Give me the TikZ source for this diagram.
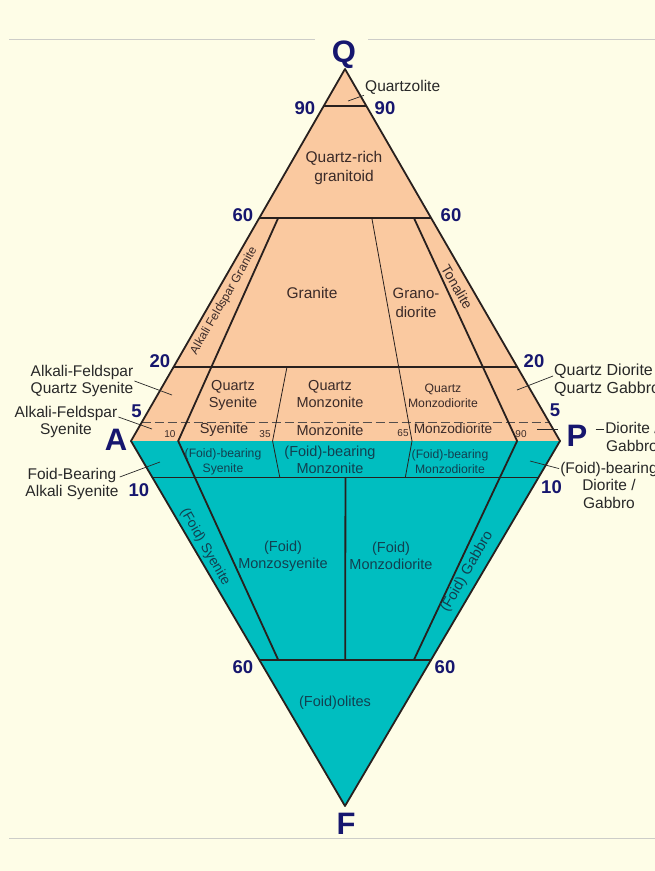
\documentclass[tikz,border=0pt]{standalone}
\usepackage{fontspec}
\setmainfont{Liberation Sans}
\usetikzlibrary{calc}

\definecolor{bg}{RGB}{254,253,231}
\definecolor{peach}{RGB}{250,201,160}
\definecolor{sea}{RGB}{0,190,192}
\definecolor{navy}{RGB}{22,22,110}
\definecolor{edge}{RGB}{40,32,30}
\definecolor{rocktext}{RGB}{58,42,40}
\definecolor{foidtext}{RGB}{18,64,80}
\definecolor{notetext}{RGB}{40,40,40}
\definecolor{rulegray}{RGB}{205,205,200}

\begin{document}
\begin{tikzpicture}[x=1pt, y=-1pt,
  vtx/.style={font=\bfseries\fontsize{31}{31}\selectfont, text=navy, inner sep=0pt},
  pct/.style={font=\bfseries\fontsize{18.5}{18.5}\selectfont, text=navy, inner sep=0pt},
  tick/.style={font=\fontsize{10}{10}\selectfont, text=rocktext, inner sep=0pt},
  rock/.style={font=\fontsize{14.5}{17}\selectfont, text=rocktext, align=center, inner sep=1pt},
  smallrock/.style={rock, font=\fontsize{12.2}{15}\selectfont},
  foid/.style={rock, text=foidtext},
  smallfoid/.style={smallrock, text=foidtext},
  note/.style={font=\fontsize{15.5}{17.5}\selectfont, text=notetext, align=center, inner sep=1pt},
  heavy/.style={draw=edge, line width=1.8pt},
  light/.style={draw=edge, line width=0.8pt},
  dashline/.style={draw=edge!80, line width=1pt, dash pattern=on 9pt off 4pt},
  leader/.style={draw=notetext, line width=0.7pt},
  rule/.style={draw=rulegray, line width=1pt}]

  % Page
  \clip (0,0) rectangle (655,871);
  \fill[bg] (0,0) rectangle (655,871);
  \coordinate (R1) at (9,39.5);
  \coordinate (R2) at (315,39.5);
  \coordinate (R3) at (368,39.5);
  \coordinate (R4) at (655,39.5);
  \coordinate (R5) at (9,838);
  \coordinate (R6) at (655,838);
  \draw[rule] (R1) -- (R2);
  \draw[rule] (R3) -- (R4);
  \draw[rule] (R5) -- (R6);

  % Corners
  \coordinate (Q) at (345,69);
  \coordinate (A) at (131,441);
  \coordinate (P) at (560,441);
  \coordinate (F) at (345,806);

  % Fields
  \fill[peach] (Q) -- (A) -- (P) -- cycle;
  \fill[sea] (A) -- (F) -- (P) -- cycle;

  % Q levels
  \coordinate (q90a) at ($(Q)!0.1!(A)$);
  \coordinate (q90p) at ($(Q)!0.1!(P)$);
  \coordinate (q60a) at ($(Q)!0.4!(A)$);
  \coordinate (q60p) at ($(Q)!0.4!(P)$);
  \coordinate (q20a) at ($(Q)!0.8!(A)$);
  \coordinate (q20p) at ($(Q)!0.8!(P)$);
  \coordinate (q05a) at ($(Q)!0.95!(A)$);
  \coordinate (q05p) at ($(Q)!0.95!(P)$);

  % F levels
  \coordinate (f10a) at ($(F)!0.9!(A)$);
  \coordinate (f10p) at ($(F)!0.9!(P)$);
  \coordinate (f60a) at ($(F)!0.4!(A)$);
  \coordinate (f60p) at ($(F)!0.4!(P)$);

  % P/(A+P) on the base
  \coordinate (b10) at ($(A)!0.11!(P)$);
  \coordinate (b35) at ($(A)!0.33!(P)$);
  \coordinate (b50) at ($(A)!0.5!(P)$);
  \coordinate (b65) at ($(A)!0.655!(P)$);
  \coordinate (b90) at ($(A)!0.9!(P)$);

  \coordinate (u10) at ($(Q)!0.4!(b10)$);
  \coordinate (u35) at ($(Q)!0.8!(b35)$);
  \coordinate (u65) at ($(Q)!0.4!(b65)$);
  \coordinate (u90) at ($(Q)!0.4!(b90)$);
  \coordinate (d10) at ($(F)!0.4!(b10)$);
  \coordinate (d35) at ($(F)!0.9!(b35)$);
  \coordinate (d50a) at ($(F)!0.9!(b50)$);
  \coordinate (d50b) at ($(F)!0.4!(b50)$);
  \coordinate (d65) at ($(F)!0.9!(b65)$);
  \coordinate (d90) at ($(F)!0.4!(b90)$);

  % Level lines
  \draw[heavy] (q90a) -- (q90p);
  \draw[heavy] (q60a) -- (q60p);
  \draw[heavy] (q20a) -- (q20p);
  \draw[dashline] (q05a) -- (q05p);
  \draw[heavy] (f10a) -- (f10p);
  \draw[heavy] (f60a) -- (f60p);

  % Ratio lines
  \draw[heavy] (u10) -- (b10) -- (d10);
  \draw[light] (u35) -- (b35) -- (d35);
  \draw[light] (u65) -- (b65) -- (d65);
  \draw[heavy] (u90) -- (b90) -- (d90);
  \draw[heavy] (d50a) -- (d50b);

  % Outline
  \draw[heavy, line join=round] (Q) -- (A) -- (F) -- (P) -- cycle;

  % Corner labels
  \node[vtx] (lQ) at (344,55) {Q};
  \node[vtx] (lA) at (116,440) {A};
  \node[vtx] (lP) at (577,436) {P};
  \node[vtx] (lF) at (346,824) {F};

  % Percentages
  \node[pct] (n90a) at (305,108) {90};
  \node[pct] (n90p) at (385,108) {90};
  \node[pct] (n60a) at (243,215.5) {60};
  \node[pct] (n60p) at (451,215.5) {60};
  \node[pct] (n20a) at (160,361) {20};
  \node[pct] (n20p) at (534,361) {20};
  \node[pct] (n5a) at (136.5,411) {5};
  \node[pct] (n5p) at (555,410) {5};
  \node[pct] (n10a) at (139,490) {10};
  \node[pct] (n10p) at (551.5,487) {10};
  \node[pct] (n60fa) at (243,667.5) {60};
  \node[pct] (n60fp) at (445,667.5) {60};

  % Ratio ticks
  \node[tick] (t10) at (170,434) {10};
  \node[tick] (t35) at (265,434) {35};
  \node[tick] (t65) at (403,433) {65};
  \node[tick] (t90) at (521,434) {90};

  % Quartz fields
  \node[rock, font=\fontsize{15.5}{19}\selectfont] (qrg) at (344,168) {Quartz-rich\\granitoid};
  \node[rock, font=\fontsize{15.5}{19}\selectfont] (gra) at (312,293) {Granite};
  \node[rock, font=\fontsize{15}{18.5}\selectfont] (grd) at (416,303) {Grano-\\diorite};
  \node[rock, font=\fontsize{12}{12}\selectfont, rotate=60] (afg) at (224,301) {Alkali Feldspar Granite};
  \node[rock, font=\fontsize{14}{14}\selectfont, rotate=-60] (ton) at (457,287) {Tonalite};
  \node[rock] (qsy) at (233,395) {Quartz\\Syenite};
  \node[rock] (qmz) at (330,394) {Quartz\\Monzonite};
  \node[smallrock] (qmd) at (443,396) {Quartz\\Monzodiorite};
  \node[rock] (sye) at (224,430) {Syenite};
  \node[rock] (mzn) at (330,430) {Monzonite};
  \node[rock, font=\fontsize{13.7}{16}\selectfont] (mzd) at (453,429) {Monzodiorite};

  % Foid fields
  \node[smallfoid] (fbs) at (223,462) {(Foid)-bearing\\Syenite};
  \node[foid] (fbm) at (330,460) {(Foid)-bearing\\Monzonite};
  \node[smallfoid] (fbmd) at (450,462) {(Foid)-bearing\\Monzodiorite};
  \node[foid, font=\fontsize{13.8}{14}\selectfont, rotate=-60] (fsy) at (205,547) {(Foid) Syenite};
  \node[foid] (fms) at (283,556) {(Foid)\\Monzosyenite};
  \node[foid] (fmd) at (391,556) {(Foid)\\Monzodiorite};
  \node[foid, font=\fontsize{14.5}{14}\selectfont, rotate=60] (fgb) at (467,572) {(Foid) Gabbro};
  \node[foid] (fol) at (335,703) {(Foid)olites};

  % Outside names
  \node[note, anchor=west] (qzl) at (364,87) {Quartzolite};
  \node[note] (afqs) at (82,381) {Alkali-Feldspar\\Quartz Syenite};
  \node[note] (afs) at (66,422) {Alkali-Feldspar\\Syenite};
  \node[note] (fbas) at (72,484) {Foid-Bearing\\Alkali Syenite};
  \node[note, anchor=west, align=left, font=\fontsize{16}{18}\selectfont] (qdg) at (553,380) {Quartz Diorite /\\Quartz Gabbro};
  \node[note] (dg) at (632,437) {Diorite /\\Gabbro};
  \node[note] (fdg) at (609,485) {(Foid)-bearing\\Diorite /\\Gabbro};

  % Leaders
  \coordinate (c1) at (348,101);
  \coordinate (c2) at (172,395);
  \coordinate (c3) at (152,429);
  \coordinate (c4) at (160,462);
  \coordinate (c5) at (517,390);
  \coordinate (c6) at (537,429);
  \coordinate (c7) at (530,461);
  \draw[leader] (c1) -- (qzl.south west);
  \draw[leader] (afqs.east) -- (c2);
  \draw[leader] ([yshift=5pt]afs.east) -- (c3);
  \draw[leader] ([yshift=7pt]fbas.east) -- (c4);
  \draw[leader] (c5) -- ([yshift=4pt]qdg.west);
  \draw[leader] (c6) -- ([xshift=-8pt]c6 -| lP.west);
  \draw[leader] ([xshift=8pt]c6 -| lP.east) -- (c6 -| dg.west);
  \draw[leader] (c7) -- ([yshift=-8pt]fdg.north west);

\end{tikzpicture}
\end{document}
